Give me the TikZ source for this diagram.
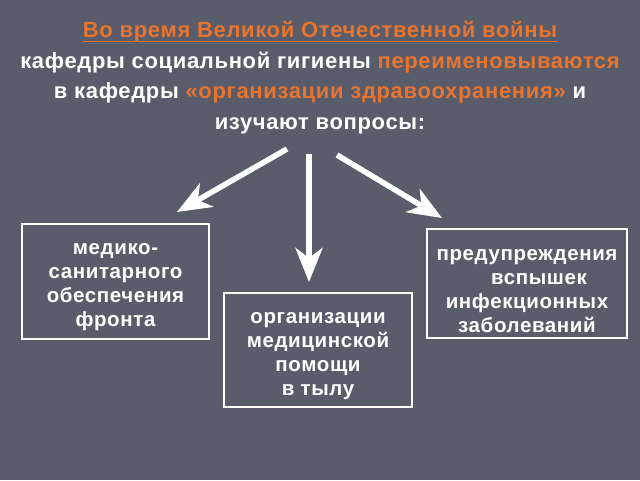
\documentclass[tikz,border=0pt]{standalone}
\usepackage{fontspec}
\setmainfont{Liberation Sans}[LetterSpace=3]
\usetikzlibrary{positioning}
\usetikzlibrary{arrows.meta}
\definecolor{slate}{RGB}{89,92,107}
\definecolor{accent}{RGB}{232,116,46}
\newcommand\ulbar[1]{\setbox0\hbox{#1}\rlap{\rule[-4.5pt]{\wd0}{1.3pt}}\box0}

\begin{document}
\begin{tikzpicture}[x=1pt, y=-1pt,
		box/.style = {draw=white, line width=1.6pt, text=white, align=center, inner sep=0pt,
			font=\bfseries\fontsize{20.5}{24}\selectfont},
		arr/.style = {white, line width=5.5pt, -{Stealth[length=34pt, width=27pt, inset=10pt]}}]
	\fill[slate] (0,0) rectangle (640,480);
	\useasboundingbox (0,0) rectangle (640,480);
	\node[text=white, align=center, inner sep=0pt, anchor=north,
		font=\bfseries\fontsize{22}{30.5}\selectfont] (head) at (320,21)
		{\textcolor{accent}{\ulbar{Во время Великой Отечественной войны}}\\
		 кафедры социальной гигиены \textcolor{accent}{переименовываются}\\
		 в кафедры \textcolor{accent}{«организации здравоохранения»} и\\
		 изучают вопросы:};
	\node[box, minimum width=187pt, minimum height=115pt] (front) at (115.5,281.5)
		{\rule{0pt}{23pt}медико-\\санитарного\\обеспечения\\фронта};
	\node[box, minimum width=188pt, minimum height=114pt] (rear) at (318,350)
		{\rule{0pt}{23pt}организации\\медицинской\\помощи\\в тылу};
	\node[box, minimum width=200pt, minimum height=109pt] (outbreak) at (527,283.5)
		{\rule{0pt}{27pt}предупреждения\\\hspace*{24pt}вспышек\\инфекционных\\заболеваний};
	% free ends of the arrows
	\coordinate (lt) at (287,149);
	\coordinate (lh) at (177,212);
	\coordinate (mt) at (309,154);
	\coordinate (mh) at (309,282);
	\coordinate (rt) at (337,155);
	\coordinate (rh) at (442,218);
	\draw[arr] (lt) -- (lh);
	\draw[arr] (mt) -- (mh);
	\draw[arr] (rt) -- (rh);
\end{tikzpicture}
\end{document}
